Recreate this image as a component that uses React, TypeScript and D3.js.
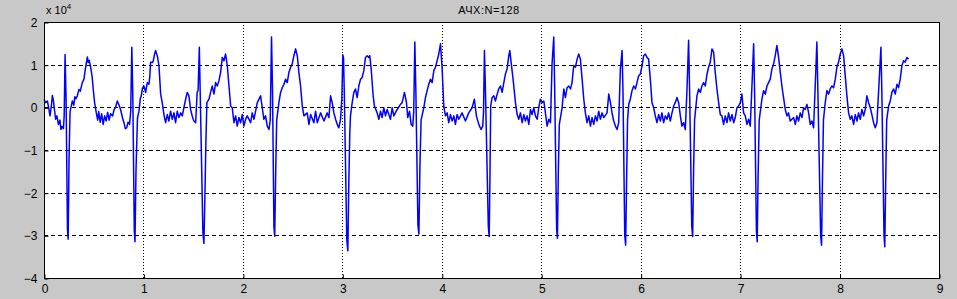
import React, { useRef, useEffect } from 'react'
import * as d3 from 'd3'

const chartTitle = 'АЧХ:N=128'
const xTicks = [0, 1, 2, 3, 4, 5, 6, 7, 8, 9]
const yTicks = [-4, -3, -2, -1, 0, 1, 2]

// signal samples, [x, y / 1e4]
const signal: [number, number][] = [
  [0.0, 0.19], [0.017, 0.11], [0.034, 0.15], [0.05, -0.05], [0.06, -0.2], [0.075, 0.05], [0.084, 0.28],
  [0.095, 0.15], [0.105, -0.05], [0.117, -0.28], [0.13, -0.2], [0.145, -0.4], [0.16, -0.3], [0.17, -0.52],
  [0.18, -0.45], [0.195, -0.5], [0.203, -0.2], [0.212, 1.24], [0.222, 0.2], [0.236, -2.85], [0.243, -3.09],
  [0.252, -1.2], [0.262, -0.1], [0.285, 0.15], [0.3, 0.05], [0.31, 0.25], [0.32, 0.2], [0.335, 0.27],
  [0.352, 0.42], [0.365, 0.38], [0.385, 0.58], [0.402, 0.66], [0.41, 0.8], [0.419, 0.94], [0.43, 1.1],
  [0.436, 1.18], [0.445, 1.05], [0.455, 1.1], [0.469, 0.94], [0.485, 0.7], [0.496, 0.4], [0.509, 0.11],
  [0.526, -0.13], [0.54, -0.3], [0.55, -0.1], [0.565, -0.35], [0.58, -0.15], [0.595, -0.4], [0.61, -0.2],
  [0.625, -0.32], [0.64, -0.12], [0.655, -0.3], [0.67, -0.15], [0.69, -0.2], [0.705, -0.05], [0.72, 0.0],
  [0.737, 0.15], [0.755, 0.05], [0.77, -0.05], [0.79, -0.25], [0.804, -0.36], [0.818, -0.5], [0.831, -0.48],
  [0.845, -0.35], [0.86, -0.4], [0.872, -0.1], [0.883, 1.41], [0.893, 0.3], [0.908, -2.9], [0.915, -3.15],
  [0.925, -1.5], [0.94, -0.25], [0.955, -0.09], [0.968, 0.2], [0.978, 0.27], [0.99, 0.45], [1.005, 0.5],
  [1.022, 0.35], [1.039, 0.58], [1.055, 0.54], [1.065, 0.75], [1.072, 1.06], [1.09, 1.05], [1.099, 1.09],
  [1.112, 1.25], [1.122, 1.33], [1.139, 1.21], [1.156, 0.98], [1.173, 0.31], [1.189, 0.11], [1.206, -0.17],
  [1.223, -0.36], [1.24, -0.17], [1.256, -0.32], [1.273, -0.09], [1.29, -0.28], [1.307, -0.13], [1.323, -0.36],
  [1.34, -0.09], [1.357, -0.24], [1.374, -0.13], [1.39, -0.2], [1.407, -0.01], [1.425, 0.2], [1.44, 0.35],
  [1.457, 0.27], [1.474, -0.05], [1.49, -0.2], [1.5, -0.28], [1.508, -0.32], [1.525, -0.36], [1.54, 0.35],
  [1.55, 0.4], [1.562, 1.41], [1.572, 0.2], [1.598, -2.95], [1.608, -3.19], [1.618, -2.1], [1.628, -0.8],
  [1.638, 0.11], [1.659, 0.19], [1.675, 0.35], [1.692, 0.5], [1.709, 0.31], [1.726, 0.58], [1.742, 0.5],
  [1.759, 0.62], [1.776, 0.82], [1.793, 1.17], [1.809, 1.09], [1.826, 1.25], [1.843, 0.98], [1.86, 0.5],
  [1.877, 0.03], [1.893, -0.01], [1.91, -0.36], [1.927, -0.2], [1.943, -0.44], [1.96, -0.24], [1.977, -0.36],
  [1.994, -0.17], [2.01, -0.44], [2.027, -0.28], [2.044, -0.2], [2.078, -0.36], [2.094, -0.13], [2.111, -0.28],
  [2.145, 0.11], [2.178, 0.27], [2.195, -0.01], [2.211, -0.28], [2.228, -0.2], [2.245, -0.44], [2.262, -0.52],
  [2.275, -0.3], [2.288, 1.65], [2.298, 0.4], [2.312, -2.8], [2.32, -3.02], [2.33, -1.5], [2.34, -0.3],
  [2.362, 0.11], [2.379, 0.35], [2.396, 0.46], [2.413, 0.54], [2.429, 0.66], [2.446, 0.58], [2.463, 0.82],
  [2.48, 0.94], [2.496, 1.02], [2.513, 1.21], [2.53, 1.37], [2.547, 1.21], [2.563, 0.82], [2.58, 0.5],
  [2.597, 0.03], [2.614, -0.2], [2.647, -0.13], [2.664, -0.4], [2.681, -0.17], [2.714, -0.36], [2.731, -0.09],
  [2.748, -0.36], [2.781, -0.13], [2.815, -0.32], [2.848, -0.13], [2.865, -0.24], [2.882, 0.27], [2.898, 0.11],
  [2.915, -0.13], [2.932, -0.28], [2.949, -0.4], [2.965, -0.48], [2.982, -0.28], [2.995, 0.2], [3.005, 1.23],
  [3.012, 1.15], [3.02, 0.3], [3.045, -3.1], [3.055, -3.36], [3.065, -1.8], [3.075, -0.6], [3.082, -0.2],
  [3.099, 0.11], [3.116, 0.35], [3.132, 0.43], [3.149, 0.23], [3.166, 0.5], [3.183, 0.66], [3.199, 0.7],
  [3.216, 0.86], [3.233, 1.17], [3.25, 1.21], [3.266, 1.17], [3.276, 1.21], [3.29, 0.9], [3.31, 0.27],
  [3.323, 0.03], [3.35, -0.13], [3.367, -0.28], [3.384, -0.09], [3.4, -0.24], [3.417, -0.01], [3.434, -0.2],
  [3.451, -0.05], [3.484, -0.28], [3.501, -0.01], [3.518, -0.2], [3.551, -0.05], [3.585, 0.07], [3.601, 0.11],
  [3.625, 0.35], [3.645, 0.11], [3.658, -0.24], [3.675, -0.09], [3.692, -0.4], [3.708, -0.44], [3.718, -0.1],
  [3.729, 1.53], [3.74, 0.3], [3.76, -2.75], [3.77, -2.97], [3.78, -1.4], [3.792, -0.3], [3.819, -0.01],
  [3.836, 0.23], [3.853, 0.39], [3.869, 0.54], [3.886, 0.66], [3.903, 0.58], [3.92, 0.86], [3.936, 0.94],
  [3.953, 1.09], [3.97, 1.25], [3.987, 1.49], [4.003, 0.94], [4.02, 0.03], [4.037, -0.2], [4.054, -0.13],
  [4.07, -0.36], [4.087, -0.17], [4.104, -0.32], [4.121, -0.2], [4.137, -0.4], [4.154, -0.17], [4.171, -0.28],
  [4.204, -0.13], [4.238, -0.32], [4.271, -0.13], [4.305, -0.01], [4.328, 0.19], [4.348, -0.2], [4.372, -0.4],
  [4.395, -0.52], [4.412, -0.44], [4.42, -0.1], [4.429, 1.33], [4.44, 0.3], [4.468, -2.8], [4.477, -3.03],
  [4.485, -1.5], [4.492, 0.03], [4.506, 0.23], [4.523, 0.27], [4.54, 0.15], [4.557, 0.31], [4.573, 0.43],
  [4.59, 0.5], [4.607, 0.35], [4.624, 0.58], [4.64, 0.78], [4.657, 0.9], [4.674, 1.21], [4.684, 1.33],
  [4.697, 1.06], [4.717, 0.66], [4.741, 0.11], [4.758, -0.17], [4.774, -0.28], [4.791, -0.13], [4.808, -0.36],
  [4.825, -0.17], [4.841, -0.32], [4.858, -0.2], [4.875, -0.4], [4.892, -0.05], [4.908, -0.17], [4.925, -0.01],
  [4.942, -0.2], [4.959, -0.28], [4.975, -0.01], [4.992, 0.19], [5.009, 0.11], [5.026, 0.15], [5.042, -0.13],
  [5.059, -0.44], [5.076, -0.28], [5.093, -0.36], [5.109, 1.02], [5.126, 1.65], [5.135, 0.5], [5.155, -2.85],
  [5.163, -3.07], [5.172, -1.5], [5.182, -0.4], [5.21, -0.01], [5.227, 0.43], [5.243, 0.23], [5.26, 0.46],
  [5.277, 0.5], [5.294, 0.43], [5.31, 0.58], [5.327, 0.98], [5.344, 0.94], [5.361, 1.13], [5.377, 1.25],
  [5.394, 1.13], [5.411, 0.66], [5.428, 0.19], [5.444, -0.13], [5.461, -0.36], [5.478, -0.2], [5.495, -0.44],
  [5.511, -0.24], [5.528, -0.4], [5.545, -0.2], [5.562, -0.32], [5.578, -0.09], [5.595, -0.28], [5.612, -0.13],
  [5.629, -0.24], [5.662, -0.13], [5.679, 0.31], [5.696, 0.11], [5.712, -0.13], [5.729, -0.32], [5.746, -0.44],
  [5.763, -0.52], [5.779, -0.36], [5.796, 0.9], [5.813, 1.33], [5.822, 0.4], [5.84, -3.0], [5.849, -3.23],
  [5.858, -1.8], [5.868, -0.3], [5.88, 0.07], [5.896, 0.19], [5.913, 0.39], [5.93, 0.5], [5.947, 0.43],
  [5.963, 0.58], [5.98, 0.74], [5.997, 0.78], [6.014, 0.98], [6.03, 1.21], [6.047, 1.25], [6.064, 1.17],
  [6.08, 1.13], [6.097, 0.66], [6.114, 0.11], [6.131, -0.01], [6.147, -0.2], [6.164, -0.36], [6.181, -0.17],
  [6.198, -0.32], [6.214, -0.13], [6.231, -0.36], [6.248, -0.2], [6.265, -0.28], [6.281, -0.13], [6.298, -0.32],
  [6.315, -0.13], [6.332, 0.03], [6.348, 0.11], [6.365, 0.23], [6.382, 0.11], [6.399, -0.2], [6.415, -0.44],
  [6.432, -0.36], [6.449, -0.52], [6.466, 0.43], [6.482, 1.57], [6.492, 0.4], [6.514, -2.8], [6.523, -3.03],
  [6.532, -1.5], [6.542, -0.3], [6.566, 0.27], [6.583, 0.43], [6.6, 0.35], [6.616, 0.5], [6.633, 0.58],
  [6.65, 0.5], [6.667, 0.78], [6.683, 0.94], [6.7, 1.06], [6.717, 1.37], [6.734, 1.29], [6.75, 0.82],
  [6.767, 0.43], [6.784, 0.11], [6.801, -0.17], [6.817, -0.2], [6.834, -0.4], [6.851, -0.2], [6.868, -0.36],
  [6.884, -0.13], [6.901, -0.32], [6.918, -0.17], [6.935, -0.36], [6.951, -0.24], [6.968, -0.01], [6.985, 0.03],
  [7.002, 0.11], [7.018, 0.31], [7.035, -0.13], [7.052, -0.2], [7.069, -0.4], [7.085, -0.28], [7.102, -0.44],
  [7.119, 0.5], [7.136, 1.49], [7.146, 0.3], [7.164, -2.9], [7.172, -3.15], [7.181, -1.6], [7.192, -0.3],
  [7.219, 0.19], [7.236, 0.39], [7.253, 0.31], [7.27, 0.5], [7.286, 0.58], [7.303, 0.66], [7.32, 0.9],
  [7.337, 1.02], [7.353, 1.21], [7.37, 1.45], [7.387, 1.17], [7.404, 0.82], [7.42, 0.5], [7.437, 0.23],
  [7.454, -0.05], [7.471, -0.2], [7.487, -0.13], [7.504, -0.32], [7.521, -0.28], [7.538, -0.24], [7.555, -0.4],
  [7.571, -0.2], [7.588, -0.32], [7.605, -0.13], [7.622, -0.24], [7.638, -0.01], [7.655, -0.05], [7.672, 0.07],
  [7.689, -0.13], [7.705, -0.4], [7.722, -0.32], [7.739, -0.48], [7.756, 0.54], [7.772, 1.53], [7.782, 0.4],
  [7.81, -3.0], [7.819, -3.23], [7.828, -1.7], [7.838, -0.3], [7.856, 0.11], [7.873, 0.39], [7.89, 0.31],
  [7.906, 0.43], [7.923, 0.5], [7.94, 0.46], [7.957, 0.66], [7.973, 0.94], [7.99, 1.06], [8.007, 1.25],
  [8.024, 1.37], [8.041, 1.21], [8.057, 0.74], [8.074, 0.27], [8.091, -0.13], [8.108, -0.28], [8.124, -0.2],
  [8.141, -0.4], [8.158, -0.17], [8.175, -0.32], [8.191, -0.13], [8.208, -0.28], [8.225, -0.05], [8.242, -0.2],
  [8.258, -0.05], [8.275, 0.27], [8.292, 0.11], [8.309, -0.01], [8.325, -0.17], [8.342, -0.36], [8.359, -0.48],
  [8.376, -0.36], [8.392, 0.35], [8.416, 1.41], [8.425, 0.4], [8.447, -3.0], [8.455, -3.27], [8.464, -1.7],
  [8.474, -0.3], [8.493, 0.03], [8.51, 0.15], [8.526, 0.35], [8.543, 0.43], [8.56, 0.31], [8.577, 0.54],
  [8.593, 0.46], [8.61, 0.66], [8.627, 0.98], [8.644, 1.09], [8.66, 1.06], [8.677, 1.17], [8.694, 1.13],
]

const App: React.FC = () => {
  const svgRef = useRef<SVGSVGElement>(null)

  useEffect(() => {
    if (!svgRef.current) return
    document.body.style.margin = '0'
    const svg = d3.select(svgRef.current)
    svg.selectAll('*').remove()

    const width = 957
    const height = 299
    const margin = { top: 22, right: 18, bottom: 21, left: 44 }
    const font = '"Liberation Sans", Arial, sans-serif'

    svg.append('rect').attr('width', width).attr('height', height).attr('fill', '#c8c8c8')

    const x = d3.scaleLinear().domain([0, 9]).range([margin.left, width - margin.right])
    const y = d3.scaleLinear().domain([-4, 2]).range([height - margin.bottom, margin.top])

    svg.append('rect')
      .attr('x', x(0)).attr('y', y(2))
      .attr('width', x(9) - x(0)).attr('height', y(-4) - y(2))
      .attr('fill', '#ffffff')

    // grid: dotted verticals, dashed horizontals
    svg.append('g')
      .selectAll('line')
      .data(xTicks.slice(1, -1))
      .join('line')
      .attr('x1', d => Math.round(x(d)) + 0.5).attr('x2', d => Math.round(x(d)) + 0.5)
      .attr('y1', y(2)).attr('y2', y(-4))
      .attr('stroke', '#000').attr('stroke-width', 1).attr('stroke-dasharray', '1,2')

    svg.append('g')
      .selectAll('line')
      .data(yTicks.slice(1, -1))
      .join('line')
      .attr('x1', x(0)).attr('x2', x(9))
      .attr('y1', d => Math.round(y(d)) + 0.5).attr('y2', d => Math.round(y(d)) + 0.5)
      .attr('stroke', '#000').attr('stroke-width', 1).attr('stroke-dasharray', '4,3')

    const line = d3.line<[number, number]>()
      .x(d => x(d[0]))
      .y(d => y(d[1]))

    svg.append('path')
      .datum(signal)
      .attr('d', line)
      .attr('fill', 'none')
      .attr('stroke', '#0000ff')
      .attr('stroke-width', 1.5)
      .attr('stroke-linejoin', 'round')

    // axes box
    svg.append('rect')
      .attr('x', x(0) + 0.5).attr('y', y(2) + 0.5)
      .attr('width', x(9) - x(0)).attr('height', y(-4) - y(2))
      .attr('fill', 'none').attr('stroke', '#000').attr('stroke-width', 1)

    const xAxis = svg.append('g')
      .attr('transform', `translate(0.5,${y(-4) + 0.5})`)
      .call(d3.axisBottom(x).tickValues(xTicks).tickFormat(d3.format('d')).tickSizeInner(-4).tickSizeOuter(0).tickPadding(6))
    xAxis.select('.domain').remove()

    const yAxis = svg.append('g')
      .attr('transform', `translate(${x(0) + 0.5},0.5)`)
      .call(d3.axisLeft(y).tickValues(yTicks).tickFormat(d3.format('d')).tickSizeInner(-4).tickSizeOuter(0).tickPadding(7))
    yAxis.select('.domain').remove()

    svg.selectAll('.tick line').attr('stroke', '#000')
    svg.selectAll('.tick text')
      .attr('fill', '#000')
      .style('font-family', font)
      .style('font-size', '12px')

    // exponent label
    const expo = svg.append('text')
      .attr('x', 46).attr('y', 14)
      .style('font-family', font)
      .style('font-size', '11px')
      .attr('fill', '#000')
    expo.append('tspan').text('x 10')
    expo.append('tspan').attr('dy', -5).style('font-size', '8px').text('4')

    svg.append('text')
      .attr('x', 489).attr('y', 14)
      .attr('text-anchor', 'middle')
      .style('font-family', font)
      .style('font-size', '11px')
      .style('letter-spacing', '0.5px')
      .attr('fill', '#000')
      .text(chartTitle)
  }, [])

  return <svg ref={svgRef} width={957} height={299} style={{ position: 'absolute', left: 0, top: 0, display: 'block' }} />
}

export default App
